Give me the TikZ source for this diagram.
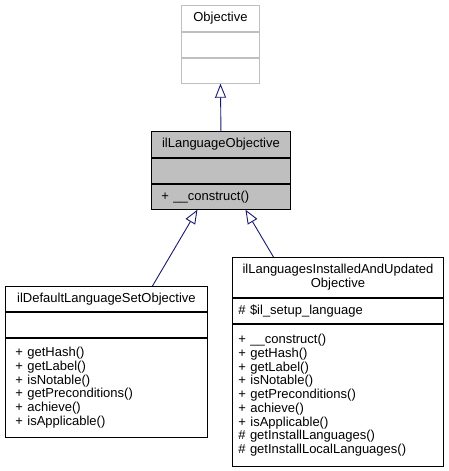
\documentclass[tikz,border=0pt]{standalone}
\usepackage{fontspec}
\setmainfont{Liberation Sans}
\usepackage{tikz}
\usetikzlibrary{arrows.meta}
\usetikzlibrary{positioning}
\definecolor{minuit}{RGB}{25,25,112}
\newcommand{\umlfont}{\fontsize{13}{13.7}\selectfont}
\tikzstyle{classe}=[
        draw=black,
        fill=white,
        line width=0.9pt,
        inner xsep=10pt,
        inner ysep=0pt,
        font=\umlfont
]
\tikzstyle{grise}=[classe,draw=black!25]
\tikzstyle{courant}=[classe,fill=black!25]
\tikzstyle{membres}=[align=left]
\tikzstyle{herite}=[-{Triangle[open,length=14pt,width=11pt]},draw=minuit,line width=0.9pt]

\begin{document}
\begin{tikzpicture}[x=1pt,y=1pt]
\useasboundingbox (0,0) rectangle (448,-471);
% Objective
\node[grise,minimum width=78pt,minimum height=26pt,anchor=north west] (objtete) at (181,-5) {Objective};
\node[grise,minimum width=78pt,minimum height=25pt,below=0pt of objtete] (objattr) {};
\node[grise,minimum width=78pt,minimum height=25pt,below=0pt of objattr] (objmeth) {};
% ilLanguageObjective
\node[courant,minimum width=139pt,minimum height=26pt,anchor=north west] (lotete) at (151,-131) {ilLanguageObjective};
\node[courant,minimum width=139pt,minimum height=25pt,below=0pt of lotete] (loattr) {};
\node[courant,membres,text width=119pt,minimum height=25pt,below=0pt of loattr] (lometh) {+ \_\_construct()};
% ilDefaultLanguageSetObjective
\node[classe,minimum width=202pt,minimum height=25pt,anchor=north west] (dltete) at (5,-286) {ilDefaultLanguageSetObjective};
\node[classe,minimum width=202pt,minimum height=25pt,below=0pt of dltete] (dlattr) {};
\node[classe,membres,text width=182pt,minimum height=99pt,below=0pt of dlattr] (dlmeth) {+ getHash()\\+ getLabel()\\+ isNotable()\\+ getPreconditions()\\+ achieve()\\+ isApplicable()};
% ilLanguagesInstalledAndUpdatedObjective
\node[classe,align=center,minimum width=211pt,minimum height=40pt,anchor=north west] (litete) at (232,-257) {ilLanguagesInstalledAndUpdated\\Objective};
\node[classe,membres,inner xsep=6pt,text width=199pt,minimum height=25pt,below=0pt of litete] (liattr) {\# \$il\_setup\_language};
\node[classe,membres,inner xsep=6pt,text width=199pt,minimum height=142pt,below=0pt of liattr] (limeth) {+ \_\_construct()\\+ getHash()\\+ getLabel()\\+ isNotable()\\+ getPreconditions()\\+ achieve()\\+ isApplicable()\\\# getInstallLanguages()\\\# getInstallLocalLanguages()};
%heritage
\draw[herite] (lotete.north) -- (objmeth.south);
\draw[herite] ([xshift=46pt]dltete.north) -- ([xshift=-23.5pt]lometh.south);
\draw[herite] ([xshift=-64.5pt]litete.north) -- ([xshift=24.5pt]lometh.south);
\end{tikzpicture}
\end{document}
